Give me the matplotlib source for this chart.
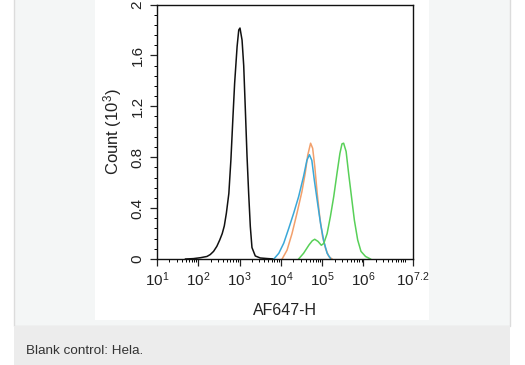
import numpy as np
import matplotlib
matplotlib.use("Agg")
import matplotlib.pyplot as plt
from matplotlib.patches import Rectangle

plt.rcParams["font.family"] = ["Liberation Sans", "DejaVu Sans"]
plt.rcParams["mathtext.fontset"] = "custom"
plt.rcParams["mathtext.rm"] = "Liberation Sans"
plt.rcParams["mathtext.it"] = "Liberation Sans"

# histogram traces: x in log10 units, counts in 10^3
black_x = [1.69, 1.88, 2.05, 2.21, 2.29, 2.37, 2.45, 2.52, 2.58, 2.63, 2.68, 2.74, 2.79, 2.84,
           2.88, 2.94, 2.98, 3.01, 3.06, 3.10, 3.14, 3.18, 3.22, 3.26, 3.30, 3.38, 3.50, 3.65, 3.82]
black_y = [0.0, 0.003, 0.01, 0.02, 0.035, 0.06, 0.1, 0.15, 0.2, 0.26, 0.36, 0.515, 0.78, 1.12,
           1.38, 1.67, 1.80, 1.815, 1.72, 1.52, 1.17, 0.81, 0.515, 0.255, 0.09, 0.024, 0.008,
           0.004, 0.0]

orange_x = [4.03, 4.15, 4.27, 4.39, 4.51, 4.59, 4.65, 4.72, 4.77, 4.82, 4.88, 4.94, 5.01,
            5.08, 5.16, 5.24]
orange_y = [0.0, 0.07, 0.2, 0.36, 0.53, 0.675, 0.815, 0.91, 0.87, 0.73, 0.515, 0.335, 0.175,
            0.085, 0.02, 0.0]

blue_x = [3.83, 3.95, 4.07, 4.19, 4.31, 4.43, 4.55, 4.63, 4.69, 4.75, 4.81, 4.88, 4.96,
          5.04, 5.12, 5.20]
blue_y = [0.0, 0.045, 0.125, 0.24, 0.36, 0.49, 0.65, 0.775, 0.82, 0.775, 0.62, 0.46, 0.28,
          0.14, 0.045, 0.005]

green_x = [4.43, 4.55, 4.68, 4.76, 4.82, 4.90, 4.98, 5.04, 5.12, 5.20, 5.28, 5.36, 5.43,
           5.48, 5.52, 5.58, 5.64, 5.71, 5.78, 5.86, 5.94, 6.05, 6.17]
green_y = [0.0, 0.045, 0.11, 0.143, 0.155, 0.138, 0.108, 0.123, 0.2, 0.335, 0.49, 0.675, 0.83,
           0.905, 0.91, 0.845, 0.675, 0.49, 0.305, 0.15, 0.06, 0.02, 0.0]

x_tick_exps = ["1", "2", "3", "4", "5", "6", "7.2"]
y_ticks = [0, 0.4, 0.8, 1.2, 1.6, 2.0]
y_tick_labels = ["0", "0.4", "0.8", "1.2", "1.6", "2"]

W, H = 525, 365
fig = plt.figure(figsize=(W / 100, H / 100), dpi=100)
fig.patch.set_facecolor("white")


def px_rect(x0, y0, x1, y1, **kw):
    # rectangle in pixel coords (top-left origin), kept behind the axes
    fig.patches.append(Rectangle((x0 / W, 1 - y1 / H), (x1 - x0) / W, (y1 - y0) / H,
                                 transform=fig.transFigure, figure=fig, zorder=-10, **kw))


px_rect(14, -2, 510, 326, facecolor="#f4f6f6", edgecolor="#dcdcdc", lw=1)
px_rect(14, 326, 510, 366, facecolor="#ececec", edgecolor="none")
px_rect(95, -2, 429, 320, facecolor="white", edgecolor="none")

fig.text(26 / W, 1 - 351 / H, "Blank control: Hela.", fontsize=9.7, color="#333333",
         va="center", ha="left")

ax = fig.add_axes([157 / W, 1 - 259 / H, (413 - 157) / W, (259 - 4.5) / H])
ax.set_facecolor("none")

ax.plot(10 ** np.array(black_x), black_y, color="#111111", lw=1.1)
ax.plot(10 ** np.array(orange_x), orange_y, color="#f2a06c", lw=1.1)
ax.plot(10 ** np.array(blue_x), blue_y, color="#3aa8d8", lw=1.1)
ax.plot(10 ** np.array(green_x), green_y, color="#58d058", lw=1.1)

ax.set_xscale("log")
ax.set_xlim(10 ** 1, 10 ** 7.2)
ax.set_ylim(0, 2.0)

ax.set_xticks([10 ** float(e) for e in x_tick_exps])
ax.set_xticklabels([r"$\mathregular{10^{%s}}$" % e for e in x_tick_exps])
minors = [k * 10.0 ** n for n in range(1, 7) for k in range(2, 10)] + [1e7]
ax.set_xticks(minors, minor=True)
ax.set_xticklabels([], minor=True)

ax.set_yticks(y_ticks)
ax.set_yticklabels(y_tick_labels, rotation=90, va="center")
ax.set_yticks(np.arange(0, 2.0, 0.08), minor=True)

ax.tick_params(axis="both", which="major", length=5, width=0.9, labelsize=11,
               colors="#222222", direction="out")
ax.tick_params(axis="both", which="minor", length=2.5, width=0.7, direction="out")
ax.tick_params(axis="x", pad=3)
ax.tick_params(axis="y", pad=4)

for s in ax.spines.values():
    s.set_linewidth(1.0)
    s.set_color("#111111")

ax.set_xlabel("AF647-H", fontsize=11.5, color="#222222", labelpad=10)
ax.set_ylabel(r"Count (10$^{\mathregular{3}}$)", fontsize=12, color="#222222", labelpad=5)

fig.savefig("out.png", dpi=100)
